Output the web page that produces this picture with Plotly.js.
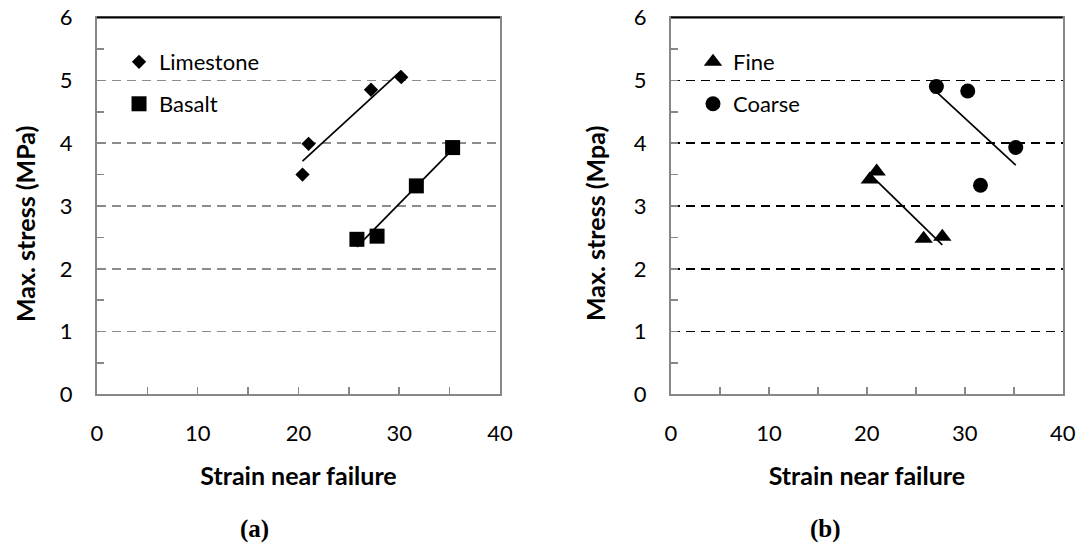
<!DOCTYPE html>
<html><head><meta charset="utf-8">
<script src="https://cdn.plot.ly/plotly-3.0.1.min.js"></script>
<style>html,body{margin:0;padding:0;background:#fff}#chart{width:1085px;height:547px}</style>
</head><body><div id="chart"></div>
<script>
// ---- data ----
const limestoneX = [20.4, 21.0, 27.2, 30.2];
const limestoneY = [3.50, 3.99, 4.85, 5.05];
const basaltX    = [25.8, 27.8, 31.7, 35.3];
const basaltY    = [2.47, 2.52, 3.32, 3.93];
const fineX      = [20.3, 21.0, 25.8, 27.7];
const fineY      = [3.42, 3.55, 2.48, 2.51];
const coarseX    = [27.1, 30.3, 31.6, 35.2];
const coarseY    = [4.90, 4.83, 3.33, 3.93];
const xTickVals  = [0, 10, 20, 30, 40];
const yTickVals  = [0, 1, 2, 3, 4, 5, 6];
const xTitle = 'Strain near failure';
const yTitleA = 'Max. stress (MPa)';
const yTitleB = 'Max. stress (Mpa)';
const panelLabels = ['(a)', '(b)'];

// least-squares linear trendline spanning the data
function trend(xs, ys) {
  const n = xs.length;
  const mx = xs.reduce((a, b) => a + b, 0) / n;
  const my = ys.reduce((a, b) => a + b, 0) / n;
  let sxy = 0, sxx = 0;
  for (let i = 0; i < n; i++) { sxy += (xs[i] - mx) * (ys[i] - my); sxx += (xs[i] - mx) ** 2; }
  const m = sxy / sxx, b = my - m * mx;
  const x0 = Math.min(...xs), x1 = Math.max(...xs);
  return { x: [x0, x1], y: [m * x0 + b, m * x1 + b] };
}

const FONT = 'Lato, "Open Sans", sans-serif';
const SERIF = '"Liberation Serif", "Times New Roman", serif';
const axisGray = '#878787';

function markerTrace(x, y, name, symbol, size, xa, ya, legend) {
  return { x, y, name, type: 'scatter', mode: 'markers', xaxis: xa, yaxis: ya, legend,
    marker: { symbol, size, color: '#000' }, cliponaxis: false };
}
function lineTrace(t, xa, ya) {
  return { x: t.x, y: t.y, type: 'scatter', mode: 'lines', xaxis: xa, yaxis: ya,
    showlegend: false, line: { color: '#000', width: 1.7 }, hoverinfo: 'skip' };
}

const tL = trend(limestoneX, limestoneY), tB = trend(basaltX, basaltY);
const tF = trend(fineX, fineY), tC = trend(coarseX, coarseY);

const data = [
  lineTrace(tL, 'x', 'y'), lineTrace(tB, 'x', 'y'),
  lineTrace(tF, 'x2', 'y2'), lineTrace(tC, 'x2', 'y2'),
  markerTrace(limestoneX, limestoneY, 'Limestone', 'diamond', 11, 'x', 'y', 'legend'),
  markerTrace(basaltX, basaltY, 'Basalt', 'square', 15, 'x', 'y', 'legend2'),
  markerTrace(fineX, fineY, 'Fine', 'triangle-up', 16, 'x2', 'y2', 'legend3'),
  markerTrace(coarseX, coarseY, 'Coarse', 'circle', 15, 'x2', 'y2', 'legend4'),
];

function xAxis(domain, anchor) {
  return {
    domain, anchor, range: [0, 40], tickvals: xTickVals, ticktext: xTickVals.map(String),
    showline: true, linecolor: axisGray, linewidth: 2, mirror: true,
    ticks: 'inside', ticklen: 7, tickwidth: 1.5, tickcolor: axisGray,
    minor: { dtick: 5, tick0: 0, ticks: 'inside', ticklen: 7, tickwidth: 1.5, tickcolor: axisGray, showgrid: false },
    showgrid: false, zeroline: false, fixedrange: true,
    tickfont: { family: FONT, size: 22, color: '#000' }, ticklabelstandoff: 18,
    title: { text: xTitle, font: { family: FONT, size: 25, color: '#000', weight: 'bold' }, standoff: 23 },
  };
}
function yAxis(domain, anchor, gridcolor) {
  return {
    domain, anchor, range: [0, 6], tickvals: yTickVals, ticktext: yTickVals.map(String),
    showline: true, linecolor: axisGray, linewidth: 2, mirror: true,
    ticks: 'inside', ticklen: 7, tickwidth: 1.5, tickcolor: axisGray,
    minor: { dtick: 0.5, tick0: 0, ticks: 'inside', ticklen: 7, tickwidth: 1.5, tickcolor: axisGray, showgrid: false },
    showgrid: true, gridcolor, gridwidth: 1.6, griddash: '9px,6px', zeroline: false, fixedrange: true,
    tickfont: { family: FONT, size: 22, color: '#000' }, ticklabelstandoff: 18,
  };
}

const legBase = { xanchor: 'left', yanchor: 'middle', bgcolor: 'rgba(0,0,0,0)', borderwidth: 0,
  font: { family: FONT, size: 22, color: '#000' }, itemwidth: 30 };

const yDom = [0.2788, 0.968];
const titleFont = { family: FONT, size: 25, color: '#000', weight: 'bold' };
const panelFont = { family: SERIF, size: 25, color: '#000', weight: 'bold' };
const layout = {
  width: 1085, height: 547, margin: { l: 0, r: 0, t: 0, b: 0 },
  paper_bgcolor: '#fff', plot_bgcolor: '#fff', showlegend: true,
  xaxis: xAxis([0.0894, 0.4608], 'y'),
  yaxis: yAxis(yDom, 'x', '#8c8c8c'),
  xaxis2: xAxis([0.6184, 0.9795], 'y2'),
  yaxis2: yAxis(yDom, 'x2', '#000'),
  legend:  Object.assign({}, legBase, { x: 0.1097, y: 0.8867 }),
  legend2: Object.assign({}, legBase, { x: 0.1097, y: 0.8099 }),
  legend3: Object.assign({}, legBase, { x: 0.6387, y: 0.8867 }),
  legend4: Object.assign({}, legBase, { x: 0.6387, y: 0.8099 }),
  shapes: [
    { type: 'line', xref: 'x domain', yref: 'y domain', x0: 0, x1: 1, y0: 1, y1: 1, line: { color: '#000', width: 2 }, layer: 'above' },
    { type: 'line', xref: 'x2 domain', yref: 'y2 domain', x0: 0, x1: 1, y0: 1, y1: 1, line: { color: '#000', width: 2 }, layer: 'above' },
  ],
  annotations: [
    { text: yTitleA, xref: 'paper', yref: 'paper', x: 25 / 1085, y: 1 - 224 / 547, textangle: -90,
      xanchor: 'center', yanchor: 'middle', showarrow: false, font: titleFont },
    { text: yTitleB, xref: 'paper', yref: 'paper', x: 595 / 1085, y: 1 - 224 / 547, textangle: -90,
      xanchor: 'center', yanchor: 'middle', showarrow: false, font: titleFont },
    { text: panelLabels[0], xref: 'paper', yref: 'paper', x: 254 / 1085, y: 1 - 529 / 547, showarrow: false,
      xanchor: 'center', yanchor: 'middle', font: panelFont },
    { text: panelLabels[1], xref: 'paper', yref: 'paper', x: 825 / 1085, y: 1 - 529 / 547, showarrow: false,
      xanchor: 'center', yanchor: 'middle', font: panelFont },
  ],
};

Plotly.newPlot('chart', data, layout, { staticPlot: true, displayModeBar: false });
</script>
</body></html>
